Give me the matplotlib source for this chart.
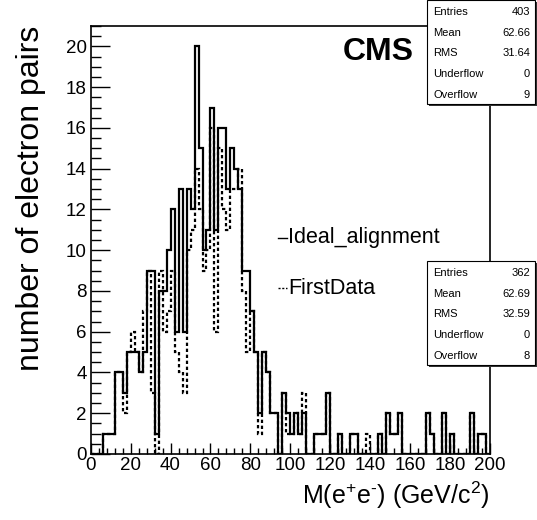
"""Di-electron invariant mass, ideal alignment vs first data (ROOT-style)."""
import numpy as np
import matplotlib

matplotlib.use("Agg")
import matplotlib.pyplot as plt  # noqa: E402
from matplotlib.patches import Rectangle  # noqa: E402
from matplotlib.ticker import MultipleLocator  # noqa: E402

plt.rcParams["font.family"] = ["Liberation Sans", "DejaVu Sans"]
plt.rcParams["mathtext.fontset"] = "custom"
plt.rcParams["mathtext.rm"] = "Liberation Sans"
plt.rcParams["mathtext.it"] = "Liberation Sans:italic"
plt.rcParams["mathtext.bf"] = "Liberation Sans:bold"

# 100 bins of 2 GeV from 0 to 200
bin_edges = np.arange(0, 202, 2)

ideal_counts = [
    0, 0, 0, 1, 1, 1, 4, 4, 3, 5,
    5, 5, 4, 5, 9, 9, 1, 8, 8, 10,
    12, 6, 13, 6, 13, 12, 20, 15, 10, 11,
    17, 11, 16, 16, 13, 15, 14, 13, 9, 9,
    7, 5, 2, 5, 4, 2, 2, 0, 3, 2,
    1, 2, 1, 2, 0, 0, 1, 1, 1, 3,
    0, 0, 1, 0, 0, 1, 1, 0, 0, 0,
    0, 0, 1, 0, 2, 1, 1, 2, 0, 0,
    0, 0, 0, 0, 2, 1, 0, 0, 2, 0,
    1, 0, 0, 0, 0, 2, 0, 1, 1, 0,
]
first_counts = [
    0, 0, 0, 1, 1, 1, 4, 4, 2, 5,
    6, 5, 4, 7, 9, 3, 0, 9, 6, 7,
    9, 5, 4, 3, 10, 11, 14, 12, 9, 10,
    16, 6, 15, 12, 11, 13, 13, 14, 8, 5,
    7, 5, 1, 5, 4, 2, 2, 0, 3, 1,
    1, 2, 1, 3, 0, 0, 1, 1, 1, 3,
    0, 0, 1, 0, 0, 1, 1, 0, 0, 1,
    0, 0, 1, 0, 2, 1, 1, 2, 0, 0,
    0, 0, 0, 0, 2, 1, 0, 0, 2, 0,
    1, 0, 0, 0, 0, 2, 0, 1, 1, 0,
]

stat_labels = ["Entries", "Mean", "RMS", "Underflow", "Overflow"]
ideal_stats = ["403", "62.66", "31.64", "0", "9"]
first_stats = ["362", "62.69", "32.59", "0", "8"]

W, H = 537, 520
fig = plt.figure(figsize=(W / 100, H / 100), dpi=100)
ax = fig.add_axes([90.7 / W, (H - 454) / H, (490 - 90.7) / W, (454 - 26) / H])

dots = (0, (1.5, 1.2))
ax.stairs(ideal_counts, bin_edges, color="black", linewidth=1.6)
ax.stairs(first_counts, bin_edges, color="black", linewidth=1.6, linestyle=dots)

ax.set_xlim(0, 200)
ax.set_ylim(0, 21)
ax.xaxis.set_major_locator(MultipleLocator(20))
ax.xaxis.set_minor_locator(MultipleLocator(4))
ax.yaxis.set_major_locator(MultipleLocator(2))
ax.yaxis.set_minor_locator(MultipleLocator(0.5))
ax.tick_params(which="both", direction="in", top=False, right=False,
               labelsize=13.5, width=1)
ax.tick_params(axis="x", which="major", length=8, pad=2)
ax.tick_params(axis="x", which="minor", length=4)
ax.tick_params(axis="y", which="major", length=14, pad=3)
ax.tick_params(axis="y", which="minor", length=7)
for s in ax.spines.values():
    s.set_linewidth(1.2)

ax.set_xlabel(r"M(e$^{+}$e$^{\text{-}}$) (GeV/c$^{2}$)", fontsize=18,
              loc="right", labelpad=4)
ax.set_ylabel("number of electron pairs", fontsize=23, loc="top", labelpad=14)

ax.text(0.808, 0.975, "CMS", transform=ax.transAxes, fontsize=23,
        fontweight="bold", ha="right", va="top")

# legend drawn by hand, ROOT style
leg_x = 278
for y_px, label, ls in [(238, "Ideal_alignment", "-"),
                        (288, "FirstData", dots)]:
    yf = (H - y_px) / H
    fig.add_artist(plt.Line2D([leg_x / W, (leg_x + 9) / W], [yf, yf],
                              color="black", linewidth=1, linestyle=ls))
    fig.text((leg_x + 10) / W, yf, label, fontsize=15.5, va="center", ha="left")


def stat_box(top_px, values):
    left, right = 427, 535
    h = 104
    fig.add_artist(Rectangle((left / W + 2 / W, (H - top_px - h - 2) / H),
                             (right - left) / W, h / H, facecolor="#333333",
                             edgecolor="none", transform=fig.transFigure))
    fig.add_artist(Rectangle((left / W, (H - top_px - h) / H),
                             (right - left) / W, h / H, facecolor="white",
                             edgecolor="black", linewidth=0.8,
                             transform=fig.transFigure))
    for i, (name, val) in enumerate(zip(stat_labels, values)):
        yf = (H - (top_px + 12 + i * 20.7)) / H
        fig.text((left + 6) / W, yf, name, fontsize=8, va="center", ha="left")
        fig.text((right - 5) / W, yf, val, fontsize=8, va="center", ha="right")


stat_box(0, ideal_stats)
stat_box(261, first_stats)

fig.savefig("out.png", dpi=100)
